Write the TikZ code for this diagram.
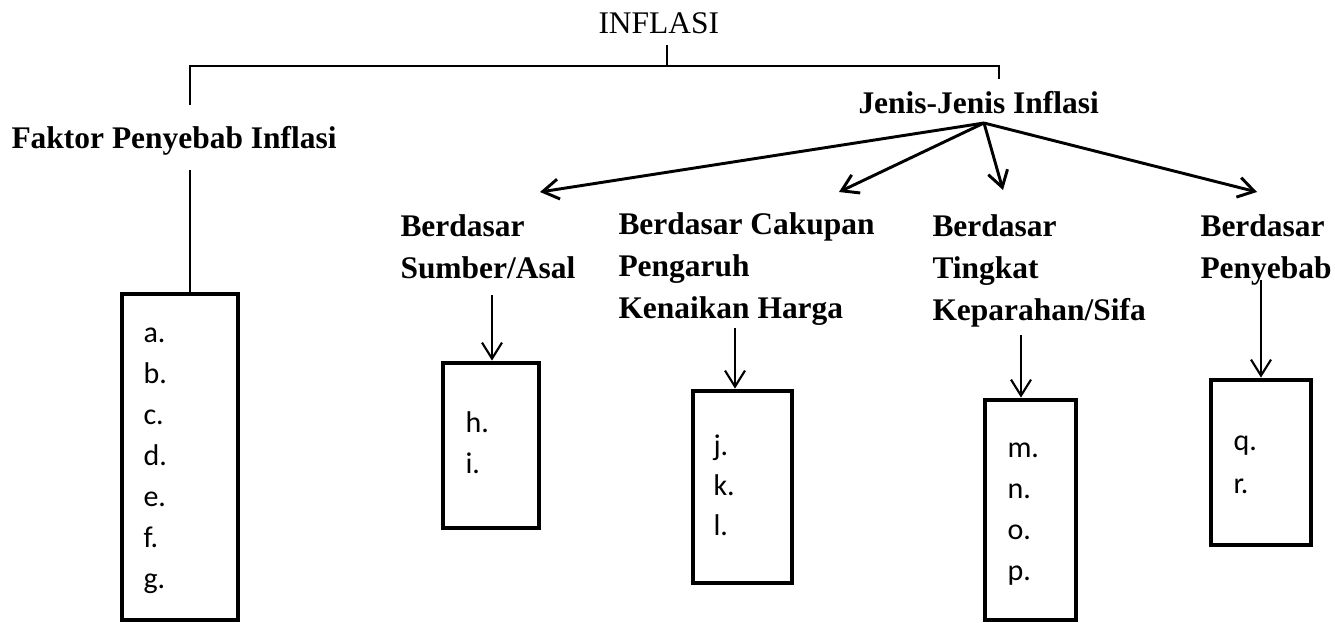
\documentclass[tikz,border=0pt]{standalone}
\usepackage{fontspec}
\setmainfont{Liberation Serif}
\newfontfamily\itemfont{Carlito}
\usetikzlibrary{arrows.meta}

\tikzset{every picture/.style={line width=0.75pt}}
\tikzset{
  head/.style={inner sep=0pt, align=left, font=\fontsize{23.6pt}{31.5pt}\selectfont\bfseries},
  item/.style={anchor=base west, inner sep=0pt, font=\fontsize{22.5pt}{30pt}\itemfont},
  listbox/.style={draw, line width=3.6pt, inner sep=0pt},
  treeline/.style={line width=1.5pt},
  downarrow/.style={line width=1.6pt, -{Straight Barb[length=12pt,width=15pt]}},
  jenisarrow/.style={line width=2.2pt, -{Straight Barb[length=12pt,width=15pt]}},
}

\begin{document}
\begin{tikzpicture}[x=0.75pt,y=0.75pt,yscale=-1,xscale=1]
\useasboundingbox (0,0) rectangle (1335,622);

% Text Node
\node[anchor=base west, inner sep=0pt, font=\fontsize{23.6pt}{31.5pt}\selectfont] (inflasi) at (598,33) {INFLASI};
% Text Node
\node[head, anchor=base west] (faktor) at (11,148) {Faktor Penyebab Inflasi};
% Text Node
\node[head, anchor=base west] (jenis) at (858,113) {Jenis-Jenis Inflasi};

% Bracket under INFLASI
\coordinate (top) at (667,45);
\coordinate (barR) at (999,66);
\coordinate (dropL) at (190,105);
\coordinate (dropR) at (999,79);
\draw[treeline] (top) -- (top |- barR);
\draw[treeline] (dropL) |- (barR) -- (dropR);

% Sub headings
\node[head, anchor=north west] (sumber) at (400,213.7) {Berdasar\\Sumber/Asal};
\node[head, anchor=north west] (cakupan) at (618,211.7) {Berdasar Cakupan\\Pengaruh\\Kenaikan Harga};
\node[head, anchor=north west] (tingkat) at (932,213.7) {Berdasar\\Tingkat\\Keparahan/Sifa};
\node[head, anchor=north west] (penyebab) at (1200,213.7) {Berdasar\\Penyebab};

% Arrows from Jenis-Jenis Inflasi
\coordinate (src) at (984,123);
\coordinate (tipA) at (540,192);
\coordinate (tipB) at (839,192);
\coordinate (tipC) at (1003,190);
\coordinate (tipD) at (1257,192);
\foreach \t in {tipA,tipB,tipC,tipD}
  \draw[jenisarrow] (src) -- (\t);

% Boxes
\node[listbox, minimum width=87pt, minimum height=244.5pt] (box1) at (180,457) {};
\node[listbox, minimum width=72pt, minimum height=123.75pt] (box2) at (491,445.5) {};
\node[listbox, minimum width=74.25pt, minimum height=144pt] (box3) at (742.5,487) {};
\node[listbox, minimum width=68.25pt, minimum height=165pt] (box4) at (1030.5,510) {};
\node[listbox, minimum width=75pt, minimum height=123.75pt] (box5) at (1261,462.5) {};

% Connectors down to the boxes
\coordinate (fk) at (190,170);
\coordinate (sa) at (492,295);
\coordinate (ck) at (735,328);
\coordinate (tk) at (1021,335);
\coordinate (py) at (1261,280);
\draw[treeline] (fk) -- (fk |- box1.north);
\draw[downarrow] (sa) -- (sa |- box2.north);
\draw[downarrow] (ck) -- (ck |- box3.north);
\draw[downarrow] (tk) -- (tk |- box4.north);
\draw[downarrow] (py) -- (py |- box5.north);

% Items
\foreach \t [count=\i from 0] in {a,b,c,d,e,f,g}
  \node[item] (it-\t) at (143,342+41*\i) {\t.};
\foreach \t [count=\i from 0] in {h,i}
  \node[item] (it-\t) at (465,432+41*\i) {\t.};
\foreach \t [count=\i from 0] in {j,k,l}
  \node[item] (it-\t) at (713,455+40*\i) {\t.};
\foreach \t [count=\i from 0] in {m,n,o,p}
  \node[item] (it-\t) at (1007,457+41*\i) {\t.};
\foreach \t [count=\i from 0] in {q,r}
  \node[item] (it-\t) at (1233,450+43*\i) {\t.};

\end{tikzpicture}
\end{document}
